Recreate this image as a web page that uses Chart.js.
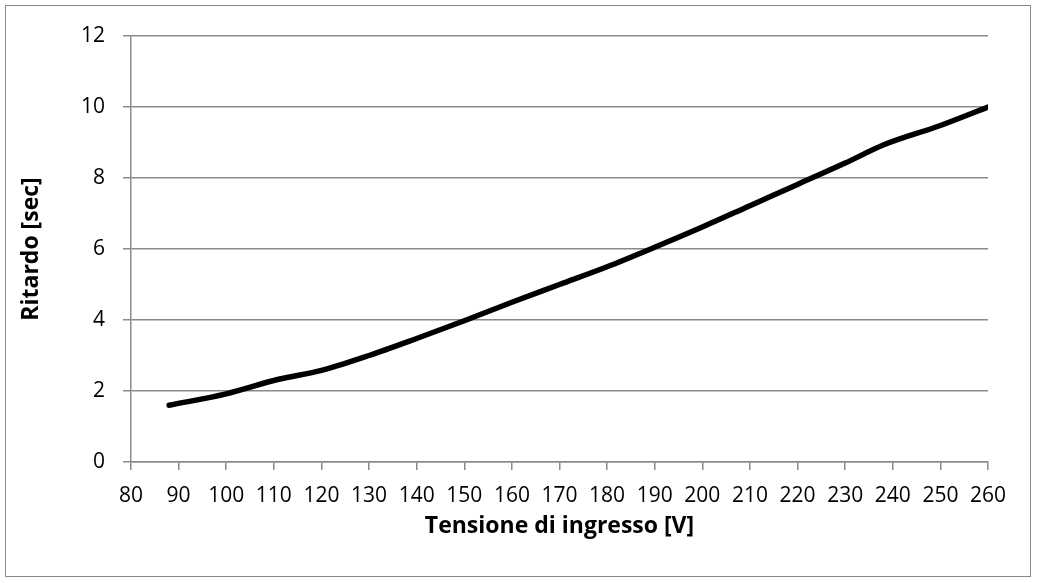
<!DOCTYPE html>
<html>
<head>
<meta charset="utf-8">
<script src="https://cdn.jsdelivr.net/npm/chart.js@4"></script>
<style>
  html, body { margin: 0; padding: 0; background: #fff; }
  #wrap { position: relative; width: 1037px; height: 583px; }
</style>
</head>
<body>
<div id="wrap"><canvas id="delayChart"></canvas></div>
<script>
// voltage (V) and delay (sec)
const voltage = [88, 100, 111, 120, 130, 140, 150, 160, 170, 180, 190, 200, 210, 220, 230, 238, 250, 260];
const delay = [1.6, 1.92, 2.33, 2.58, 3.0, 3.48, 3.98, 4.5, 5.0, 5.5, 6.05, 6.62, 7.22, 7.82, 8.42, 8.93, 9.48, 10.0];
const xTicks = [80, 90, 100, 110, 120, 130, 140, 150, 160, 170, 180, 190, 200, 210, 220, 230, 240, 250, 260];
const yTicks = [0, 2, 4, 6, 8, 10, 12];

const points = voltage.map((v, i) => ({ x: v, y: delay[i] }));

const outerBorder = {
  id: "outerBorder",
  afterDraw(chart) {
    const c = chart.ctx;
    c.save();
    c.strokeStyle = "#8a8a8a";
    c.lineWidth = 1;
    c.strokeRect(5.5, 5.5, 1025, 571);
    c.restore();
  }
};

const ctx = document.getElementById("delayChart").getContext("2d");
new Chart(ctx, {
  type: "line",
  data: {
    datasets: [{
      label: "Ritardo",
      data: points,
      borderColor: "#000",
      borderWidth: 5.5,
      borderCapStyle: "round",
      borderJoinStyle: "round",
      pointRadius: 0,
      cubicInterpolationMode: "monotone",
      fill: false
    }]
  },
  options: {
    responsive: true,
    maintainAspectRatio: false,
    animation: false,
    layout: { padding: { top: 36, right: 49, left: 0, bottom: 0 } },
    plugins: {
      legend: { display: false },
      tooltip: { enabled: false }
    },
    scales: {
      x: {
        type: "linear",
        min: 80,
        max: 260,
        afterFit(scale) { scale.height = 121; },
        afterBuildTicks(scale) { scale.ticks = xTicks.map(v => ({ value: v })); },
        ticks: {
          padding: 13,
          color: "#000",
          maxRotation: 0,
          autoSkip: false,
          font: { family: "Open Sans", size: 21 }
        },
        grid: {
          drawOnChartArea: false,
          drawTicks: true,
          tickLength: 8,
          color: "#8a8a8a",
          lineWidth: 1.5
        },
        border: { color: "#8a8a8a", width: 1.5 },
        title: {
          display: true,
          text: "Tensione di ingresso [V]",
          color: "#000",
          font: { family: "Open Sans", size: 23, weight: "bold" },
          padding: { top: 0, bottom: 43 }
        }
      },
      y: {
        min: 0,
        max: 12,
        afterFit(scale) { scale.width = 131; },
        afterBuildTicks(scale) { scale.ticks = yTicks.map(v => ({ value: v })); },
        ticks: {
          padding: 18,
          color: "#000",
          font: { family: "Open Sans", size: 21 }
        },
        grid: {
          tickLength: 8,
          color: "#8a8a8a",
          lineWidth: 1.5
        },
        border: { color: "#8a8a8a", width: 1.5 },
        title: {
          display: true,
          text: "Ritardo [sec]",
          color: "#000",
          font: { family: "Open Sans", size: 23, weight: "bold" },
          padding: { top: 18, bottom: 0 }
        }
      }
    }
  },
  plugins: [outerBorder]
});
</script>
</body>
</html>
